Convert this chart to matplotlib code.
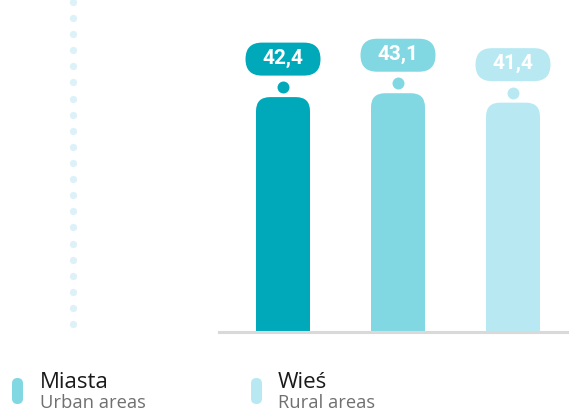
import matplotlib
matplotlib.use("Agg")
import matplotlib.pyplot as plt
import numpy as np
from matplotlib.patches import FancyBboxPatch, Rectangle

plt.rcParams['font.family'] = ['Open Sans', 'DejaVu Sans']

# data
categories = ["Ogółem", "Miasta", "Wieś"]
values = [42.4, 43.1, 41.4]
labels = ["42,4", "43,1", "41,4"]
colors = ["#00A9BA", "#82D8E2", "#B8E9F2"]
legend_titles = ["Miasta", "Wieś"]
legend_subtitles = ["Urban areas", "Rural areas"]
legend_colors = ["#82D8E2", "#B8E9F2"]

W, H = 569, 411
fig = plt.figure(figsize=(W / 100, H / 100), dpi=100)

# overlay axes in pixel coordinates for decoration
deco = fig.add_axes([0, 0, 1, 1])
deco.set_xlim(0, W)
deco.set_ylim(H, 0)
deco.axis("off")

dot_y = np.arange(2, 326, 16.1)
deco.plot(np.full_like(dot_y, 73), dot_y, "o", ms=5.2, color="#DDF1F9", mec="none")

# bar axes
left, right, base = 219, 569, 332
ax = fig.add_axes([left / W, (H - base) / H, (right - left) / W, base / H])
px_per_x = 115.0
px_per_y = 5.54
ax.set_xlim(-(283 - left) / px_per_x, 2 + (right - 513) / px_per_x)
ax.set_ylim(0, base / px_per_y)
for s in ["top", "right", "left"]:
    ax.spines[s].set_visible(False)
ax.spines["bottom"].set_color("#D9D9D9")
ax.spines["bottom"].set_linewidth(2.2)
ax.set_xticks([])
ax.set_yticks([])
ax.patch.set_alpha(0)

aspect = px_per_x / px_per_y
bw = 54 / px_per_x
r = 14 / px_per_x
box_w = 75 / px_per_x
box_h = 33 / px_per_y

for i, (v, lab, c) in enumerate(zip(values, labels, colors)):
    ax.add_patch(FancyBboxPatch((i - bw / 2, 0), bw, v, boxstyle=f"round,pad=0,rounding_size={r}",
                                mutation_aspect=aspect, fc=c, ec="none"))
    ax.add_patch(Rectangle((i - bw / 2, 0), bw, v * 0.5, fc=c, ec="none"))
    ax.plot(i, v + 10 / px_per_y, "o", ms=8.6, color=c, mec="none")
    cy = v + 38 / px_per_y
    ax.add_patch(FancyBboxPatch((i - box_w / 2, cy - box_h / 2), box_w, box_h,
                                boxstyle=f"round,pad=0,rounding_size={16.5 / px_per_x}",
                                mutation_aspect=aspect, fc=c, ec="none"))
    ax.text(i, cy + 0.2, lab, ha="center", va="center", color="white", fontsize=15,
            fontweight="bold", family="Roboto")

# legend
for j, (t, st, c) in enumerate(zip(legend_titles, legend_subtitles, legend_colors)):
    x0 = [12, 251][j]
    deco.add_patch(FancyBboxPatch((x0, 378), 11, 26, boxstyle="round,pad=0,rounding_size=5.5",
                                  fc=c, ec="none"))
    tx = [40, 278][j]
    deco.text(tx, 388, t, fontsize=16, color="#1a1a1a", va="baseline")
    deco.text(tx, 408, st, fontsize=13.2, color="#707070", va="baseline")

fig.savefig("out.png", dpi=100)
